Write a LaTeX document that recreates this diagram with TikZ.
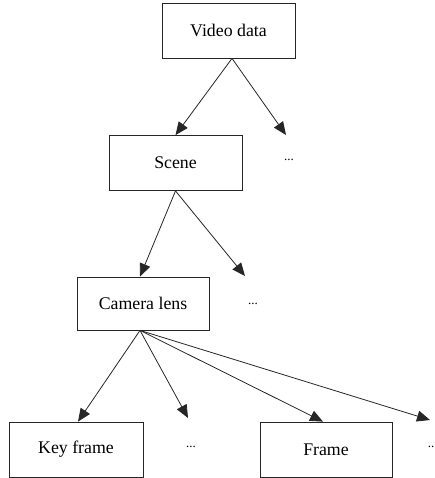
\documentclass[tikz,border=0pt]{standalone}
\usepackage{fontspec}
\setmainfont{Liberation Serif}
\usepackage{tikz}
\usetikzlibrary{arrows.meta,positioning}
\tikzset{
  vidbox/.style  = {rectangle, draw=black!85, line width=0.8pt, fill=white,
                    align=center, font=\fontsize{17.8}{20}\selectfont,
                    minimum width=133pt, minimum height=55pt, inner sep=2pt},
  vidflow/.style = {-{Triangle[length=13pt,width=11pt]}, draw=black!85, line width=0.8pt},
  viddots/.style = {font=\fontsize{13}{15}\selectfont, inner sep=0pt},
}

\begin{document}
\begin{tikzpicture}[x=1pt,y=1pt]
  \useasboundingbox (0,0) rectangle (435,-478);

  \node[vidbox] (vd) at (228.5,-30.5) {Video data};
  \node[vidbox] (sc) at (175.5,-163)  {Scene};
  \node[vidbox, minimum width=132pt, minimum height=53pt] (cl) at (143,-303.5) {Camera lens};
  \node[vidbox, minimum width=134pt] (kf) at (76,-449.5)  {Key frame};
  \node[vidbox, minimum width=132pt] (fr) at (326,-449.5) {Frame};

  \node[viddots] (d1) at (289,-160) {...};
  \node[viddots] (d2) at (253,-304) {...};
  \node[viddots] (d3) at (191,-447) {...};
  \node[viddots] (d4) at (431,-447) {..};

  % free ends of the arrows that lead to the "..." branches
  \coordinate (e1) at (286,-135);
  \coordinate (e2) at (245,-276);
  \coordinate (e3) at (188,-418);
  \coordinate (e4) at (430,-420);

  \coordinate (vdout) at ([xshift=3.5pt]vd.south);
  \coordinate (clout) at ([xshift=-3pt]cl.south);

  \draw[vidflow] (vdout) -- (sc.north);
  \draw[vidflow] (vdout) -- (e1);
  \draw[vidflow] (sc.south) -- ([xshift=-3pt]cl.north);
  \draw[vidflow] (sc.south) -- (e2);
  \draw[vidflow] (clout) -- ([xshift=2pt]kf.north);
  \draw[vidflow] (clout) -- (e3);
  \draw[vidflow] (clout) -- ([xshift=-3pt]fr.north);
  \draw[vidflow] (clout) -- (e4);
\end{tikzpicture}
\end{document}
